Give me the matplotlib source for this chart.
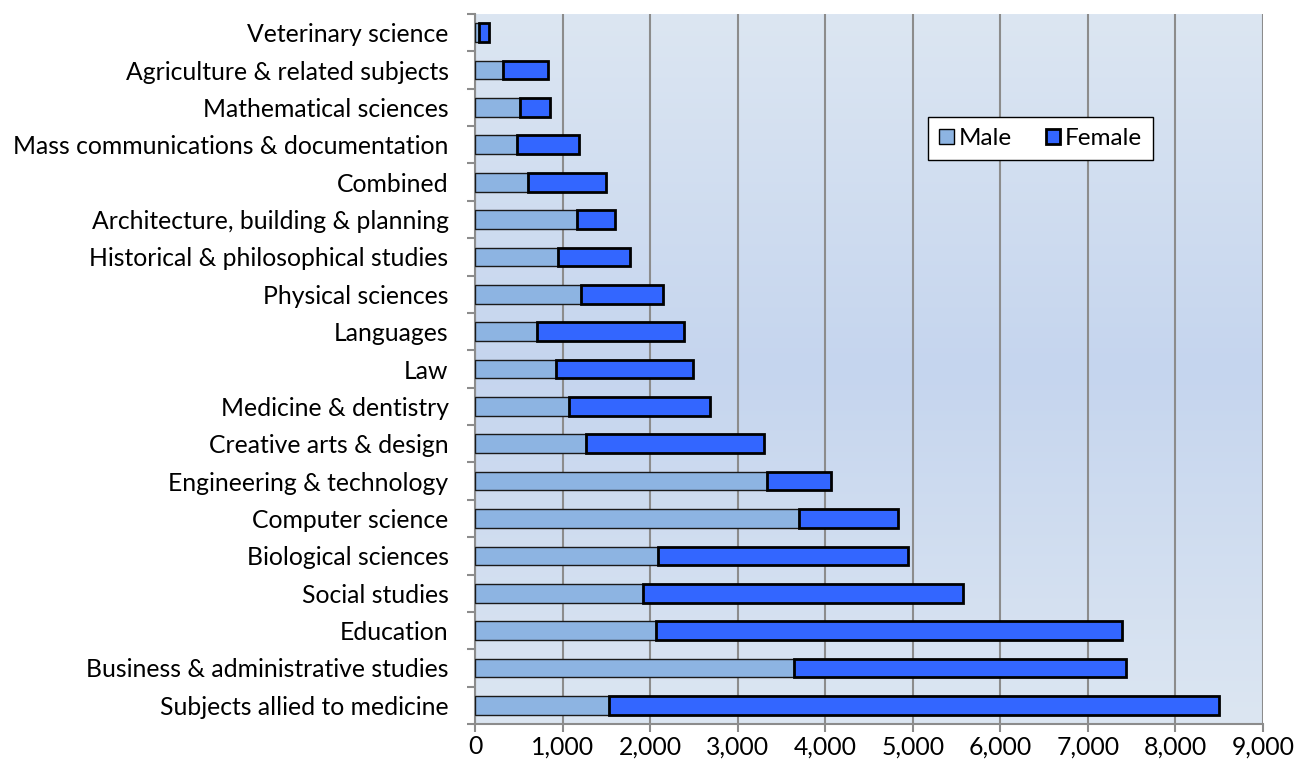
import numpy as np
import matplotlib.pyplot as plt
from matplotlib.ticker import FuncFormatter, FixedLocator
from matplotlib.patches import Patch

# Subjects, bottom to top as drawn
subjects = [
    "Subjects allied to medicine",
    "Business & administrative studies",
    "Education",
    "Social studies",
    "Biological sciences",
    "Computer science",
    "Engineering & technology",
    "Creative arts & design",
    "Medicine & dentistry",
    "Law",
    "Languages",
    "Physical sciences",
    "Historical & philosophical studies",
    "Architecture, building & planning",
    "Combined",
    "Mass communications & documentation",
    "Mathematical sciences",
    "Agriculture & related subjects",
    "Veterinary science",
]
male = [1535, 3640, 2070, 1915, 2085, 3700, 3340, 1265, 1070, 925,
        705, 1210, 950, 1170, 610, 480, 510, 320, 40]
female = [6960, 3790, 5320, 3660, 2865, 1130, 725, 2035, 1615, 1565,
          1685, 935, 815, 430, 890, 705, 345, 510, 125]

male_color = "#8DB4E2"
female_color = "#3366FF"

plt.rcParams['font.family'] = ['Lato', 'DejaVu Sans']

fig = plt.figure(figsize=(12.96, 7.69), dpi=100)
ax = fig.add_axes([475 / 1296, 45 / 769, 788 / 1296, 710 / 769])

# gradient background (lighter at top and bottom, deeper in the middle)
t = np.linspace(0, 1, 256)
shade = 1 - np.abs(t - 0.5) * 2
top = np.array([220, 230, 242]) / 255
mid = np.array([197, 213, 238]) / 255
grad = top[None, :] + (mid - top)[None, :] * shade[:, None]
ax.imshow(grad[:, None, :], extent=[0, 9000, -0.5, len(subjects) - 0.5],
          aspect='auto', zorder=0)

y = np.arange(len(subjects))
ax.barh(y, male, height=0.5, color=male_color, edgecolor="#1a1a1a",
        linewidth=1.0, zorder=3, label="Male")
ax.barh(y, female, left=male, height=0.5, color=female_color,
        edgecolor="black", linewidth=2.0, zorder=3, label="Female")

ax.set_xlim(0, 9000)
ax.set_ylim(-0.5, len(subjects) - 0.5)
ax.set_xticks(np.arange(0, 9001, 1000))
ax.xaxis.set_major_formatter(FuncFormatter(lambda v, p: f"{int(v):,}"))
ax.grid(axis='x', color="#8c8c8c", linewidth=1.5, zorder=1)

ax.set_yticks(y)
ax.set_yticklabels(subjects)
ax.yaxis.set_minor_locator(FixedLocator(np.arange(-0.5, len(subjects), 1)))
ax.tick_params(axis='y', which='major', length=0, pad=19, labelsize=17.8)
ax.tick_params(axis='y', which='minor', length=6, width=1.5, color="#8c8c8c")
ax.tick_params(axis='x', length=6, width=1.5, color="#8c8c8c",
               labelsize=17.8, pad=2)

for s in ['top', 'right']:
    ax.spines[s].set_visible(False)
for s in ['left', 'bottom']:
    ax.spines[s].set_color("#8c8c8c")
    ax.spines[s].set_linewidth(1.5)

handles = [Patch(facecolor=male_color, edgecolor="black", label="Male"),
           Patch(facecolor=female_color, edgecolor="black", linewidth=2, label="Female")]
leg = ax.legend(handles=handles, ncol=2, loc='upper left',
                bbox_to_anchor=(0.575, 0.855), borderaxespad=0,
                fontsize=17.5, frameon=True,
                fancybox=False, edgecolor="black", framealpha=1,
                handlelength=0.6, handleheight=0.6, handletextpad=0.2,
                columnspacing=1.4, borderpad=0.45)
leg.get_frame().set_linewidth(1.0)

fig.savefig("out.png", dpi=100)
